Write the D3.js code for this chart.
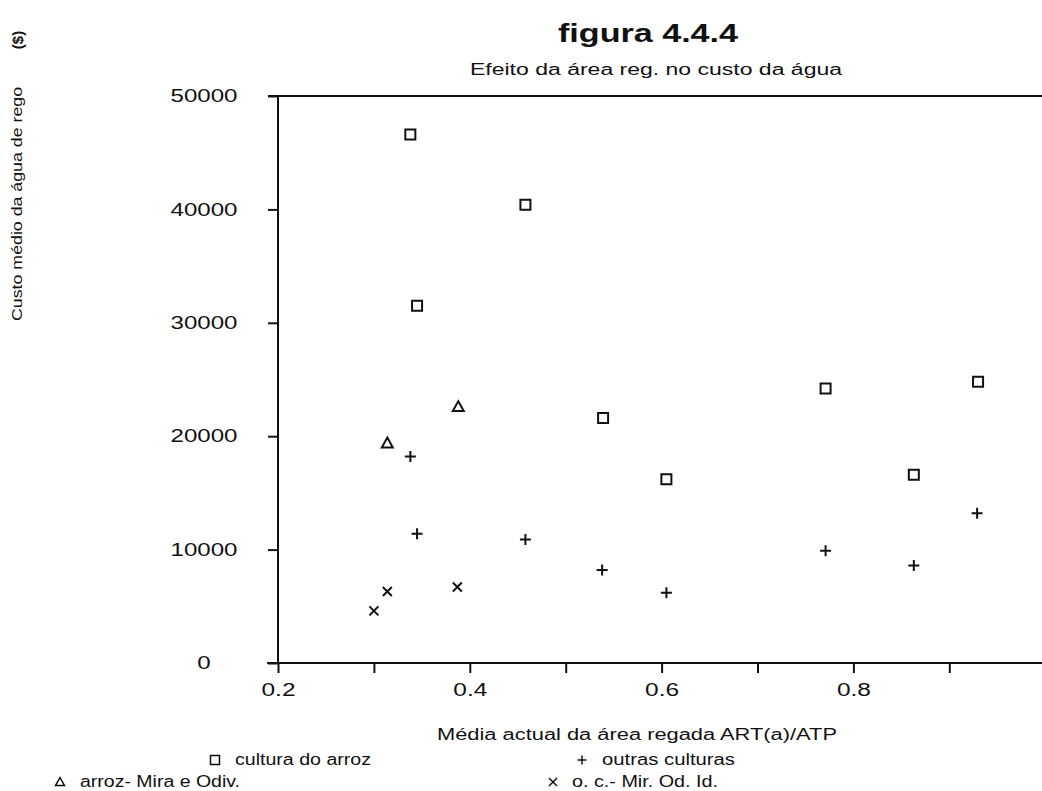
<!DOCTYPE html>
<html>
<head>
<meta charset="utf-8">
<script src="https://cdn.jsdelivr.net/npm/d3@7"></script>
<style>
  body { margin: 0; background: #fff; }
  text { font-family: "Liberation Sans", Arial, sans-serif; fill: #111; }
</style>
</head>
<body>
<script>
// data
var arrozX = [0.338, 0.458, 0.345, 0.539, 0.605, 0.771, 0.863, 0.930];
var arrozY = [46600, 40400, 31500, 21600, 16200, 24200, 16600, 24800];

var miraX = [0.314, 0.388];
var miraY = [19400, 22600];

var outrasX = [0.338, 0.345, 0.458, 0.538, 0.605, 0.771, 0.863, 0.929];
var outrasY = [18200, 11400, 10900, 8200, 6200, 9900, 8600, 13200];

var ocX = [0.300, 0.314, 0.387];
var ocY = [4600, 6300, 6700];

var xTicks = [0.2, 0.3, 0.4, 0.5, 0.6, 0.7, 0.8, 0.9];
var xLabels = [0.2, 0.4, 0.6, 0.8];
var yTicks = [0, 10000, 20000, 30000, 40000, 50000];

var legendLabels = ["cultura do arroz", "outras culturas", "arroz- Mira e Odiv.", "o. c.- Mir. Od. Id."];

var W = 1042, H = 791;
var margin = {top: 96, left: 278, bottom: 128};

var svg = d3.select("body").append("svg")
    .attr("width", W)
    .attr("height", H);

// set the ranges (x runs off the right edge, like the scan)
var x = d3.scaleLinear().domain([0.2, 1.0]).range([margin.left, margin.left + 8 * 95.9]);
var y = d3.scaleLinear().domain([0, 50000]).range([H - margin.bottom, margin.top]);

// marker shapes
function markSquare(r) { return "M" + (-r) + "," + (-r) + "h" + 2 * r + "v" + 2 * r + "h" + (-2 * r) + "Z"; }
function markTri(r) { return "M0," + (-r) + "L" + r + "," + (r * 0.8) + "L" + (-r) + "," + (r * 0.8) + "Z"; }
function markPlus(r) { return "M" + (-r) + ",0H" + r + "M0," + (-r) + "V" + r; }
function markX(r) { return "M" + (-r) + "," + (-r) + "L" + r + "," + r + "M" + (-r) + "," + r + "L" + r + "," + (-r); }

// stretch text to a width (the scan is wider than the font)
function stretch(sel, w) {
  sel.attr("textLength", w).attr("lengthAdjust", "spacingAndGlyphs");
}

// titles
svg.append("text")
    .attr("x", 648).attr("y", 42)
    .attr("text-anchor", "middle")
    .style("font-size", "26px").style("font-weight", "bold")
    .text("figura 4.4.4")
    .call(stretch, 180);

svg.append("text")
    .attr("x", 656).attr("y", 75)
    .attr("text-anchor", "middle")
    .style("font-size", "16px")
    .text("Efeito da área reg. no custo da água")
    .call(stretch, 372);

// y axis title
svg.append("text")
    .attr("transform", "translate(22,204) rotate(-90)")
    .attr("text-anchor", "middle")
    .style("font-size", "14px")
    .text("Custo médio da água de rego")
    .call(stretch, 234);

svg.append("text")
    .attr("transform", "translate(23,40) rotate(-90)")
    .attr("text-anchor", "middle")
    .style("font-size", "15px").style("font-weight", "bold")
    .text("($)");

// frame lines
var frame = svg.append("g").attr("stroke", "#111").attr("stroke-width", 2);
frame.append("line")
    .attr("x1", x(0.2) - 10).attr("x2", W)
    .attr("y1", y(50000)).attr("y2", y(50000));
frame.append("line")
    .attr("x1", x(0.2)).attr("x2", x(0.2))
    .attr("y1", y(50000)).attr("y2", y(0));
frame.append("line")
    .attr("x1", x(0.2) - 11).attr("x2", W)
    .attr("y1", y(0)).attr("y2", y(0));

// add the X axis
var gx = svg.append("g")
    .attr("transform", "translate(0," + y(0) + ")")
    .call(d3.axisBottom(x).tickValues(xTicks).tickSize(10).tickPadding(10)
      .tickFormat(function(d) { return xLabels.indexOf(d) >= 0 ? d3.format(".1f")(d) : ""; }));
gx.select(".domain").remove();
gx.selectAll("line").attr("stroke", "#111").attr("stroke-width", 2);
gx.selectAll("text")
    .attr("font-family", null).style("font-size", "18px").attr("fill", "#111")
    .call(stretch, 34);

// add the Y axis
var gy = svg.append("g")
    .attr("transform", "translate(" + x(0.2) + ",0)")
    .call(d3.axisLeft(y).tickValues(yTicks).tickSize(10)
      .tickFormat(d3.format("d")));
gy.select(".domain").remove();
gy.selectAll("line").attr("stroke", "#111").attr("stroke-width", 2);
gy.selectAll("text")
    .attr("font-family", null).style("font-size", "18px").attr("fill", "#111")
    .attr("x", -74).attr("text-anchor", "middle")
    .each(function(d) {
      var s = String(d).length;
      d3.select(this).call(stretch, s * 13.4);
    });

// the points
function drawSeries(xs, ys, shape, r) {
  svg.append("g").selectAll("path")
      .data(xs)
    .enter().append("path")
      .attr("transform", function(d, i) { return "translate(" + x(d) + "," + y(ys[i]) + ")"; })
      .attr("d", shape(r))
      .attr("fill", "none")
      .attr("stroke", "#111")
      .attr("stroke-width", 2);
}
drawSeries(arrozX, arrozY, markSquare, 5);
drawSeries(miraX, miraY, markTri, 5.5);
drawSeries(outrasX, outrasY, markPlus, 5.5);
drawSeries(ocX, ocY, markX, 4.5);

// x axis title
svg.append("text")
    .attr("x", 437).attr("y", 740)
    .style("font-size", "16px")
    .text("Média actual da área regada  ART(a)/ATP")
    .call(stretch, 400);

// legend
var legendPos = [[215, 760, 235, 136], [582, 760, 602, 133], [60, 782, 80, 160], [553, 782, 572, 146]];
var legendShapes = [markSquare, markPlus, markTri, markX];
var legendR = [4.5, 4.5, 4.5, 4];
legendLabels.forEach(function(lab, i) {
  var p = legendPos[i];
  svg.append("path")
      .attr("transform", "translate(" + p[0] + "," + p[1] + ")")
      .attr("d", legendShapes[i](legendR[i]))
      .attr("fill", "none").attr("stroke", "#111").attr("stroke-width", 1.5);
  svg.append("text")
      .attr("x", p[2]).attr("y", p[1] + 5)
      .style("font-size", "16px")
      .text(lab)
      .call(stretch, p[3]);
});
</script>
</body>
</html>
